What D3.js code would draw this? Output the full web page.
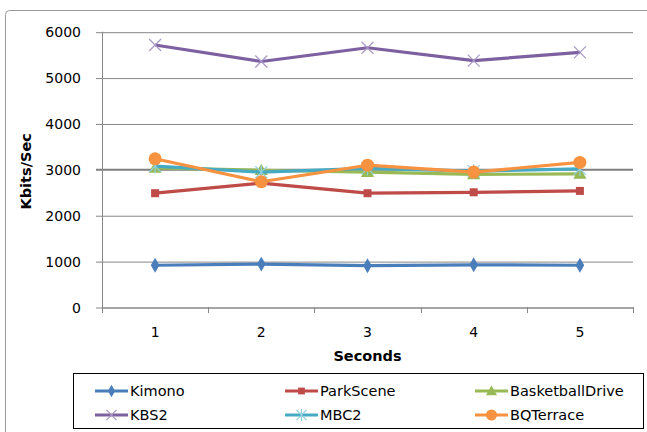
<!DOCTYPE html>
<html>
<head>
<meta charset="utf-8">
<script src="https://cdn.jsdelivr.net/npm/d3@7"></script>
<style>
  html, body { margin: 0; padding: 0; background: #fff; }
  svg { display: block; }
  text { font-family: "DejaVu Sans", "Noto Sans CJK KR", sans-serif; fill: #000; }
</style>
</head>
<body>
<svg id="chart" width="647" height="432"></svg>
<script>
// Bitrate per second for six test sequences
const seconds = ["1", "2", "3", "4", "5"];
const yTicks = [0, 1000, 2000, 3000, 4000, 5000, 6000];
const seriesNames = ["Kimono", "ParkScene", "BasketballDrive", "KBS2", "MBC2", "BQTerrace"];
const kimono = [910, 935, 900, 920, 910];
const parkScene = [2480, 2700, 2480, 2500, 2530];
const basketballDrive = [3030, 2980, 2940, 2890, 2900];
const kbs2 = [5710, 5350, 5650, 5370, 5550];
const mbc2 = [3070, 2940, 3020, 2960, 3010];
const bqTerrace = [3230, 2730, 3090, 2940, 3150];

const seriesValues = [kimono, parkScene, basketballDrive, kbs2, mbc2, bqTerrace];
const colors = ["#4A7EBB", "#BE4B48", "#98B954", "#7D60A0", "#46AAC5", "#F69240"];
const markerKinds = ["diamond", "square", "triangle", "cross", "star", "circle"];

const svg = d3.select("#chart");
const grid = "#878787";

// outer chart frame (continues past the page edge)
svg.append("rect")
  .attr("x", 5.5).attr("y", 10.5).attr("width", 700).attr("height", 500)
  .attr("rx", 4).attr("fill", "none").attr("stroke", "#9a9a9a").attr("stroke-width", 1);

const plot = { left: 102, right: 633, top: 31.7, bottom: 307 };

const x = d3.scaleBand().domain(seconds).range([plot.left, plot.right]).padding(0);
const y = d3.scaleLinear().domain([0, 6000]).range([plot.bottom, plot.top]);

// horizontal gridlines with left ticks
const yAxis = d3.axisLeft(y).tickValues(yTicks).tickSize(plot.right - plot.left + 6).tickPadding(15).tickFormat(d3.format("d"));
const gy = svg.append("g").attr("transform", `translate(${plot.right},0)`).call(yAxis);
gy.select(".domain").remove();
gy.selectAll(".tick line").attr("stroke", grid).attr("stroke-width", 1)
  .attr("transform", "translate(0,0.5)");
gy.selectAll(".tick").filter(d => d === 3000).select("line")
  .attr("stroke", "#7f7f7f").attr("stroke-width", 2).attr("transform", null);
gy.selectAll(".tick text").attr("font-size", 14).attr("fill", "#000")
  .attr("font-family", "DejaVu Sans, sans-serif").attr("dy", "0.36em");

// vertical axis line
svg.append("line")
  .attr("x1", plot.left + 0.5).attr("x2", plot.left + 0.5)
  .attr("y1", plot.top).attr("y2", plot.bottom + 1)
  .attr("stroke", grid);

// category axis
const xAxis = d3.axisBottom(x).tickSize(0).tickPadding(20);
const gx = svg.append("g").attr("transform", `translate(0,${plot.bottom + 0.5})`).call(xAxis);
gx.select(".domain").attr("stroke", grid);
gx.selectAll(".tick text").attr("font-size", 14).attr("fill", "#000")
  .attr("font-family", "DejaVu Sans, sans-serif");
// tick marks between categories
const bounds = seconds.map(s => x(s)).concat([x(seconds[seconds.length - 1]) + x.bandwidth()]);
svg.append("g").selectAll("line").data(bounds).join("line")
  .attr("x1", d => Math.round(d) + 0.5).attr("x2", d => Math.round(d) + 0.5)
  .attr("y1", plot.bottom).attr("y2", plot.bottom + 6)
  .attr("stroke", grid);

// axis titles
svg.append("text")
  .attr("transform", `translate(31,${(plot.top + plot.bottom) / 2 + 2}) rotate(-90)`)
  .attr("text-anchor", "middle").attr("font-size", 14.5).attr("font-weight", "bold")
  .text("Kbits/Sec");
svg.append("text")
  .attr("x", (plot.left + plot.right) / 2).attr("y", 361)
  .attr("text-anchor", "middle").attr("font-size", 14.5).attr("font-weight", "bold")
  .text("Seconds");

// marker shapes
function drawMarker(g, kind, color, cx, cy, scale) {
  const s = scale || 1;
  if (kind === "diamond") {
    g.append("path").attr("d", d3.symbol(d3.symbolDiamond, 64 * s * s)()).attr("transform", `translate(${cx},${cy})`)
      .attr("fill", color);
  } else if (kind === "square") {
    const w = 8 * s;
    g.append("rect").attr("x", cx - w / 2).attr("y", cy - w / 2).attr("width", w).attr("height", w).attr("fill", color);
  } else if (kind === "triangle") {
    g.append("path").attr("d", d3.symbol(d3.symbolTriangle, 75 * s * s)()).attr("transform", `translate(${cx},${cy + 1})`)
      .attr("fill", color);
  } else if (kind === "cross") {
    const r = 6 * s;
    g.append("path").attr("d", `M${cx - r},${cy - r}L${cx + r},${cy + r}M${cx - r},${cy + r}L${cx + r},${cy - r}`)
      .attr("stroke", "#a898c4").attr("stroke-width", 1.2).attr("fill", "none");
  } else if (kind === "star") {
    const r = 6 * s;
    g.append("path").attr("d", `M${cx - r},${cy - r}L${cx + r},${cy + r}M${cx - r},${cy + r}L${cx + r},${cy - r}M${cx},${cy - r - 1}L${cx},${cy + r + 1}`)
      .attr("stroke", "#8fd0e2").attr("stroke-width", 1.2).attr("fill", "none");
  } else if (kind === "circle") {
    g.append("circle").attr("cx", cx).attr("cy", cy).attr("r", 6.5 * s).attr("fill", color);
  }
}

const line = d3.line().x((d, i) => x(seconds[i]) + x.bandwidth() / 2).y(d => y(d));

seriesValues.forEach((vals, k) => {
  const g = svg.append("g");
  g.append("path").datum(vals).attr("d", line)
    .attr("fill", "none").attr("stroke", colors[k]).attr("stroke-width", 3.2)
    .attr("stroke-linejoin", "round");
  vals.forEach((v, i) => drawMarker(g, markerKinds[k], colors[k], x(seconds[i]) + x.bandwidth() / 2, y(v)));
});

// legend
const legend = svg.append("g");
legend.append("rect").attr("x", 73.5).attr("y", 373.5).attr("width", 570).attr("height", 55)
  .attr("fill", "#fff").attr("stroke", "#000").attr("stroke-width", 1);
const colX = [95, 285, 475];
const rowY = [391, 415];
seriesNames.forEach((name, k) => {
  const lx = colX[k % 3], ly = rowY[Math.floor(k / 3)];
  legend.append("line").attr("x1", lx).attr("x2", lx + 33).attr("y1", ly).attr("y2", ly)
    .attr("stroke", colors[k]).attr("stroke-width", 3.2);
  drawMarker(legend, markerKinds[k], colors[k], lx + 16.5, ly, 0.85);
  legend.append("text").attr("x", lx + 35).attr("y", ly).attr("dy", "0.36em")
    .attr("font-size", 14.5).text(name);
});
</script>
</body>
</html>
